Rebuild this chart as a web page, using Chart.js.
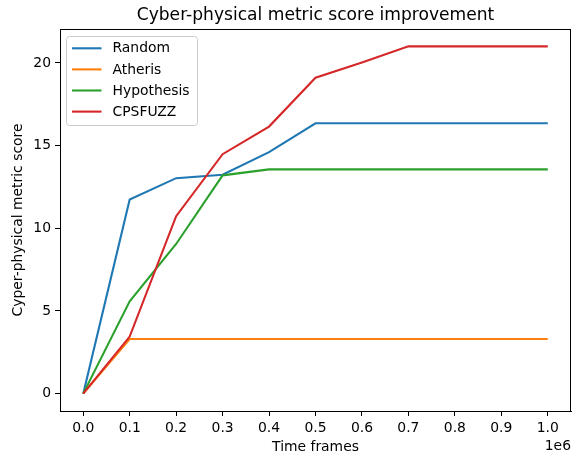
<!DOCTYPE html>
<html>
<head>
<meta charset="utf-8">
<script src="https://cdn.jsdelivr.net/npm/chart.js@4.4.1/dist/chart.umd.min.js"></script>
<style>
html,body{margin:0;padding:0;background:#fff;}
#wrap{width:573px;height:453px;}
</style>
</head>
<body>
<div id="wrap"><canvas id="c" width="573" height="453"></canvas></div>
<script>
const xValues = [0, 100000, 200000, 300000, 400000, 500000, 600000, 700000, 800000, 900000, 1000000];
const xTickValues = [0, 100000, 200000, 300000, 400000, 500000, 600000, 700000, 800000, 900000, 1000000];
const xTickLabels = ['0.0','0.1','0.2','0.3','0.4','0.5','0.6','0.7','0.8','0.9','1.0'];
const yTickValues = [0, 5, 10, 15, 20];
const randomScores = [0, 11.74, 13.03, 13.24, 14.6, 16.35, 16.35, 16.35, 16.35, 16.35, 16.35];
const atherisScores = [0, 3.3, 3.3, 3.3, 3.3, 3.3, 3.3, 3.3, 3.3, 3.3, 3.3];
const hypothesisScores = [0, 5.58, 9.05, 13.2, 13.56, 13.56, 13.56, 13.56, 13.56, 13.56, 13.56];
const cpsfuzzScores = [0, 3.45, 10.73, 14.48, 16.15, 19.1, 20.02, 21.0, 21.0, 21.0, 21.0];
const seriesNames = ['Random', 'Atheris', 'Hypothesis', 'CPSFUZZ'];
const seriesColors = ['#1f77b4', '#ff7f0e', '#2ca02c', '#d62728'];
const titleText = 'Cyber-physical metric score improvement';
const xTitle = 'Time frames';
const yTitle = 'Cyper-physical metric score';
const offsetText = '1e6';

const FONT = 'DejaVu Sans';
const allSeries = [randomScores, atherisScores, hypothesisScores, cpsfuzzScores];

const datasets = allSeries.map((vals, i) => ({
  label: seriesNames[i],
  data: xValues.map((x, j) => ({x: x, y: vals[j]})),
  borderColor: seriesColors[i],
  backgroundColor: seriesColors[i],
  borderWidth: 2.1,
  pointRadius: 0,
  tension: 0,
  fill: false,
  order: allSeries.length - i
}));

const decor = {
  id: 'decor',
  afterDraw(chart) {
    const ctx = chart.ctx;
    const a = chart.chartArea;
    ctx.save();
    ctx.strokeStyle = '#000';
    ctx.lineWidth = 1;
    ctx.strokeRect(Math.round(a.left) + 0.5, Math.round(a.top) + 0.5, Math.round(a.right - a.left) - 1, Math.round(a.bottom - a.top));
    ctx.fillStyle = '#000';
    ctx.font = '17.1px "' + FONT + '"';
    ctx.textAlign = 'center';
    ctx.textBaseline = 'middle';
    ctx.fillText(titleText, (a.left + a.right) / 2, 15.5);
    ctx.font = '13.9px "' + FONT + '"';
    ctx.textAlign = 'right';
    ctx.fillText(offsetText, a.right, 446.5);
    const bx = 66.5, by = 36.5, bw = 131, bh = 89, r = 3;
    ctx.beginPath();
    ctx.moveTo(bx + r, by);
    ctx.lineTo(bx + bw - r, by);
    ctx.quadraticCurveTo(bx + bw, by, bx + bw, by + r);
    ctx.lineTo(bx + bw, by + bh - r);
    ctx.quadraticCurveTo(bx + bw, by + bh, bx + bw - r, by + bh);
    ctx.lineTo(bx + r, by + bh);
    ctx.quadraticCurveTo(bx, by + bh, bx, by + bh - r);
    ctx.lineTo(bx, by + r);
    ctx.quadraticCurveTo(bx, by, bx + r, by);
    ctx.closePath();
    ctx.fillStyle = 'rgba(255,255,255,0.8)';
    ctx.fill();
    ctx.strokeStyle = '#cccccc';
    ctx.lineWidth = 1;
    ctx.stroke();
    ctx.textAlign = 'left';
    ctx.textBaseline = 'middle';
    ctx.font = '13.9px "' + FONT + '"';
    seriesNames.forEach((name, i) => {
      const y = 48.3 + i * 21.1;
      ctx.strokeStyle = seriesColors[i];
      ctx.lineWidth = 2.1;
      ctx.beginPath();
      ctx.moveTo(72, y);
      ctx.lineTo(101.5, y);
      ctx.stroke();
      ctx.fillStyle = '#000';
      ctx.fillText(name, 112.5, y + 0.5);
    });
    ctx.restore();
  }
};

new Chart(document.getElementById('c'), {
  type: 'line',
  data: { datasets: datasets },
  options: {
    responsive: false,
    animation: false,
    layout: { padding: { top: 29, right: 2, left: 0, bottom: 0 } },
    plugins: { legend: { display: false }, tooltip: { enabled: false }, title: { display: false } },
    scales: {
      x: {
        type: 'linear',
        min: -50000,
        max: 1050000,
        afterBuildTicks: (s) => { s.ticks = xTickValues.map(v => ({ value: v })); },
        afterFit: (s) => { s.height = 42; },
        ticks: {
          autoSkip: false,
          maxRotation: 0,
          padding: 4,
          color: '#000',
          font: { family: FONT, size: 13.9 },
          callback: (v) => { const i = xTickValues.indexOf(v); return i >= 0 ? xTickLabels[i] : ''; }
        },
        grid: { display: true, drawOnChartArea: false, drawTicks: true, tickLength: 5, color: '#000', lineWidth: 1 },
        border: { display: true, color: '#000', width: 1 },
        title: { display: true, text: xTitle, color: '#000', font: { family: FONT, size: 13.9 }, padding: { top: 0, bottom: -3 } }
      },
      y: {
        type: 'linear',
        min: -1.05,
        max: 22.05,
        afterBuildTicks: (s) => { s.ticks = yTickValues.map(v => ({ value: v })); },
        afterFit: (s) => { s.width = 60; },
        ticks: {
          padding: 4,
          color: '#000',
          font: { family: FONT, size: 13.9 },
          callback: (v) => String(v)
        },
        grid: { display: true, drawOnChartArea: false, drawTicks: true, tickLength: 5, color: '#000', lineWidth: 1 },
        border: { display: true, color: '#000', width: 1 },
        title: { display: true, text: yTitle, color: '#000', font: { family: FONT, size: 13.9 }, padding: { top: 10, bottom: 0 } }
      }
    }
  },
  plugins: [decor]
});
</script>
</body>
</html>
